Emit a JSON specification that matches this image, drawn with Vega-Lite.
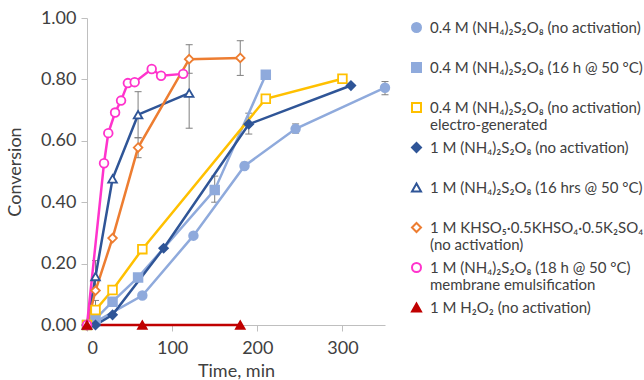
{
  "$schema": "https://vega.github.io/schema/vega-lite/v6.json",
  "autosize": {"type": "none"},
  "width": 298,
  "height": 307,
  "padding": {"left": 87, "top": 18, "right": 259, "bottom": 55},
  "background": "white",
  "config": {
    "view": {"stroke": null},
    "font": "Lato",
    "axis": {"grid": false, "domainColor": "#BFBFBF", "tickColor": "#BFBFBF", "labelColor": "#404040", "titleColor": "#404040", "labelFont": "Lato", "titleFont": "Lato", "labelFontSize": 18, "titleFontSize": 18, "titleFontWeight": "normal", "tickSize": 6},
    "legend": {"orient": "none", "legendX": 322, "legendY": 2, "title": null, "labelFont": "Lato", "labelFontSize": 15, "labelColor": "#404040", "labelLimit": 400, "symbolSize": 81, "symbolStrokeWidth": 2, "labelOffset": 6, "rowPadding": 6, "gridAlign": "all"}
  },
  "datasets": {
    "pts": [
      {"series": "0.4 M (NH₄)₂S₂O₈ (no activation)", "t": 0, "conv": 0},
      {"series": "0.4 M (NH₄)₂S₂O₈ (no activation)", "t": 10, "conv": 0.01},
      {"series": "0.4 M (NH₄)₂S₂O₈ (no activation)", "t": 65, "conv": 0.096},
      {"series": "0.4 M (NH₄)₂S₂O₈ (no activation)", "t": 125, "conv": 0.291},
      {"series": "0.4 M (NH₄)₂S₂O₈ (no activation)", "t": 185, "conv": 0.518},
      {"series": "0.4 M (NH₄)₂S₂O₈ (no activation)", "t": 245, "conv": 0.639},
      {"series": "0.4 M (NH₄)₂S₂O₈ (no activation)", "t": 350, "conv": 0.773},
      {"series": "0.4 M (NH₄)₂S₂O₈ (16 h @ 50 °C)", "t": 0, "conv": 0},
      {"series": "0.4 M (NH₄)₂S₂O₈ (16 h @ 50 °C)", "t": 10, "conv": 0.02},
      {"series": "0.4 M (NH₄)₂S₂O₈ (16 h @ 50 °C)", "t": 30, "conv": 0.076},
      {"series": "0.4 M (NH₄)₂S₂O₈ (16 h @ 50 °C)", "t": 60, "conv": 0.155},
      {"series": "0.4 M (NH₄)₂S₂O₈ (16 h @ 50 °C)", "t": 150, "conv": 0.44},
      {"series": "0.4 M (NH₄)₂S₂O₈ (16 h @ 50 °C)", "t": 210, "conv": 0.815},
      {"series": "0.4 M (NH₄)₂S₂O₈ (no activation)|electro-generated", "t": 0, "conv": 0},
      {"series": "0.4 M (NH₄)₂S₂O₈ (no activation)|electro-generated", "t": 10, "conv": 0.049},
      {"series": "0.4 M (NH₄)₂S₂O₈ (no activation)|electro-generated", "t": 30, "conv": 0.114},
      {"series": "0.4 M (NH₄)₂S₂O₈ (no activation)|electro-generated", "t": 65, "conv": 0.247},
      {"series": "0.4 M (NH₄)₂S₂O₈ (no activation)|electro-generated", "t": 210, "conv": 0.737},
      {"series": "0.4 M (NH₄)₂S₂O₈ (no activation)|electro-generated", "t": 300, "conv": 0.802},
      {"series": "1 M (NH₄)₂S₂O₈ (no activation)", "t": 0, "conv": 0},
      {"series": "1 M (NH₄)₂S₂O₈ (no activation)", "t": 10, "conv": 0.0},
      {"series": "1 M (NH₄)₂S₂O₈ (no activation)", "t": 30, "conv": 0.033},
      {"series": "1 M (NH₄)₂S₂O₈ (no activation)", "t": 90, "conv": 0.25},
      {"series": "1 M (NH₄)₂S₂O₈ (no activation)", "t": 190, "conv": 0.654},
      {"series": "1 M (NH₄)₂S₂O₈ (no activation)", "t": 310, "conv": 0.78},
      {"series": "1 M (NH₄)₂S₂O₈ (16 hrs @ 50 °C)", "t": 0, "conv": 0},
      {"series": "1 M (NH₄)₂S₂O₈ (16 hrs @ 50 °C)", "t": 10, "conv": 0.158},
      {"series": "1 M (NH₄)₂S₂O₈ (16 hrs @ 50 °C)", "t": 30, "conv": 0.476},
      {"series": "1 M (NH₄)₂S₂O₈ (16 hrs @ 50 °C)", "t": 60, "conv": 0.685},
      {"series": "1 M (NH₄)₂S₂O₈ (16 hrs @ 50 °C)", "t": 120, "conv": 0.755},
      {"series": "1 M KHSO₅·0.5KHSO₄·0.5K₂SO₄|(no activation)", "t": 0, "conv": 0},
      {"series": "1 M KHSO₅·0.5KHSO₄·0.5K₂SO₄|(no activation)", "t": 10, "conv": 0.112},
      {"series": "1 M KHSO₅·0.5KHSO₄·0.5K₂SO₄|(no activation)", "t": 30, "conv": 0.283},
      {"series": "1 M KHSO₅·0.5KHSO₄·0.5K₂SO₄|(no activation)", "t": 60, "conv": 0.578},
      {"series": "1 M KHSO₅·0.5KHSO₄·0.5K₂SO₄|(no activation)", "t": 120, "conv": 0.866},
      {"series": "1 M KHSO₅·0.5KHSO₄·0.5K₂SO₄|(no activation)", "t": 180, "conv": 0.87},
      {"series": "1 M (NH₄)₂S₂O₈ (18 h @ 50 °C)|membrane emulsification", "t": 0, "conv": 0},
      {"series": "1 M (NH₄)₂S₂O₈ (18 h @ 50 °C)|membrane emulsification", "t": 20, "conv": 0.527},
      {"series": "1 M (NH₄)₂S₂O₈ (18 h @ 50 °C)|membrane emulsification", "t": 25, "conv": 0.625},
      {"series": "1 M (NH₄)₂S₂O₈ (18 h @ 50 °C)|membrane emulsification", "t": 33, "conv": 0.692},
      {"series": "1 M (NH₄)₂S₂O₈ (18 h @ 50 °C)|membrane emulsification", "t": 40, "conv": 0.731},
      {"series": "1 M (NH₄)₂S₂O₈ (18 h @ 50 °C)|membrane emulsification", "t": 48, "conv": 0.788},
      {"series": "1 M (NH₄)₂S₂O₈ (18 h @ 50 °C)|membrane emulsification", "t": 56, "conv": 0.791},
      {"series": "1 M (NH₄)₂S₂O₈ (18 h @ 50 °C)|membrane emulsification", "t": 76, "conv": 0.834},
      {"series": "1 M (NH₄)₂S₂O₈ (18 h @ 50 °C)|membrane emulsification", "t": 87, "conv": 0.812},
      {"series": "1 M (NH₄)₂S₂O₈ (18 h @ 50 °C)|membrane emulsification", "t": 113, "conv": 0.818},
      {"series": "1 M H₂O₂ (no activation)", "t": 0, "conv": 0},
      {"series": "1 M H₂O₂ (no activation)", "t": 65, "conv": 0},
      {"series": "1 M H₂O₂ (no activation)", "t": 180, "conv": 0}
    ],
    "err": [
      {"t": 10, "lo": 0.03, "hi": 0.08},
      {"t": 10, "lo": 0.11, "hi": 0.21},
      {"t": 60, "lo": 0.61, "hi": 0.76},
      {"t": 60, "lo": 0.545, "hi": 0.61},
      {"t": 120, "lo": 0.641, "hi": 0.868},
      {"t": 120, "lo": 0.82, "hi": 0.913},
      {"t": 180, "lo": 0.813, "hi": 0.926},
      {"t": 150, "lo": 0.40, "hi": 0.485},
      {"t": 190, "lo": 0.622, "hi": 0.69},
      {"t": 185, "lo": 0.51, "hi": 0.53},
      {"t": 245, "lo": 0.625, "hi": 0.655},
      {"t": 350, "lo": 0.75, "hi": 0.793}
    ]
  },
  "layer": [
    {
      "data": {"name": "err"},
      "mark": {"type": "rule", "color": "#7F7F7F", "strokeWidth": 1},
      "encoding": {
        "x": {"field": "t", "type": "quantitative", "scale": {"domain": [0, 350], "nice": false}},
        "y": {"field": "lo", "type": "quantitative", "scale": {"domain": [0, 1], "nice": false}},
        "y2": {"field": "hi"}
      }
    },
    {
      "data": {"name": "err"},
      "mark": {"type": "tick", "orient": "horizontal", "color": "#7F7F7F", "thickness": 1, "size": 7, "opacity": 1},
      "encoding": {
        "x": {"field": "t", "type": "quantitative"},
        "y": {"field": "lo", "type": "quantitative"}
      }
    },
    {
      "data": {"name": "err"},
      "mark": {"type": "tick", "orient": "horizontal", "color": "#7F7F7F", "thickness": 1, "size": 7, "opacity": 1},
      "encoding": {
        "x": {"field": "t", "type": "quantitative"},
        "y": {"field": "hi", "type": "quantitative"}
      }
    },
    {
      "data": {"name": "pts"},
      "mark": {"type": "line", "strokeWidth": 2.5},
      "encoding": {
        "x": {"field": "t", "type": "quantitative", "axis": {"title": "Time, min", "values": [0, 100, 200, 300], "labelPadding": 8, "titlePadding": 5}},
        "y": {"field": "conv", "type": "quantitative", "axis": {"title": "Conversion", "values": [0, 0.2, 0.4, 0.6, 0.8, 1.0], "format": ".2f", "labelPadding": 5, "titlePadding": 16}},
        "stroke": {
          "field": "series", "type": "nominal",
          "legend": {"labelExpr": "split(datum.label, '|')", "encode": {"labels": {"lineHeight": {"value": 19}}}}
        }
      }
    },
    {
      "data": {"name": "pts"},
      "mark": {"type": "point", "size": 75, "strokeWidth": 1.8, "opacity": 1, "filled": true},
      "encoding": {
        "x": {"field": "t", "type": "quantitative"},
        "y": {"field": "conv", "type": "quantitative"},
        "stroke": {
          "field": "series", "type": "nominal",
          "scale": {
            "domain": ["0.4 M (NH₄)₂S₂O₈ (no activation)", "0.4 M (NH₄)₂S₂O₈ (16 h @ 50 °C)", "0.4 M (NH₄)₂S₂O₈ (no activation)|electro-generated", "1 M (NH₄)₂S₂O₈ (no activation)", "1 M (NH₄)₂S₂O₈ (16 hrs @ 50 °C)", "1 M KHSO₅·0.5KHSO₄·0.5K₂SO₄|(no activation)", "1 M (NH₄)₂S₂O₈ (18 h @ 50 °C)|membrane emulsification", "1 M H₂O₂ (no activation)"],
            "range": ["#8FAADC", "#8FAADC", "#FFC000", "#2F5597", "#2F5597", "#ED7D31", "#FF33CC", "#C00000"]
          },
          "legend": {"labelExpr": "split(datum.label, '|')", "encode": {"labels": {"lineHeight": {"value": 19}}}}
        },
        "fill": {
          "field": "series", "type": "nominal",
          "scale": {
            "domain": ["0.4 M (NH₄)₂S₂O₈ (no activation)", "0.4 M (NH₄)₂S₂O₈ (16 h @ 50 °C)", "0.4 M (NH₄)₂S₂O₈ (no activation)|electro-generated", "1 M (NH₄)₂S₂O₈ (no activation)", "1 M (NH₄)₂S₂O₈ (16 hrs @ 50 °C)", "1 M KHSO₅·0.5KHSO₄·0.5K₂SO₄|(no activation)", "1 M (NH₄)₂S₂O₈ (18 h @ 50 °C)|membrane emulsification", "1 M H₂O₂ (no activation)"],
            "range": ["#8FAADC", "#8FAADC", "#FFFFFF", "#2F5597", "#FFFFFF", "#FFFFFF", "#FFFFFF", "#C00000"]
          }
        },
        "shape": {
          "field": "series", "type": "nominal",
          "scale": {
            "domain": ["0.4 M (NH₄)₂S₂O₈ (no activation)", "0.4 M (NH₄)₂S₂O₈ (16 h @ 50 °C)", "0.4 M (NH₄)₂S₂O₈ (no activation)|electro-generated", "1 M (NH₄)₂S₂O₈ (no activation)", "1 M (NH₄)₂S₂O₈ (16 hrs @ 50 °C)", "1 M KHSO₅·0.5KHSO₄·0.5K₂SO₄|(no activation)", "1 M (NH₄)₂S₂O₈ (18 h @ 50 °C)|membrane emulsification", "1 M H₂O₂ (no activation)"],
            "range": ["circle", "square", "square", "diamond", "triangle-up", "diamond", "circle", "triangle-up"]
          }
        }
      }
    }
  ]
}
